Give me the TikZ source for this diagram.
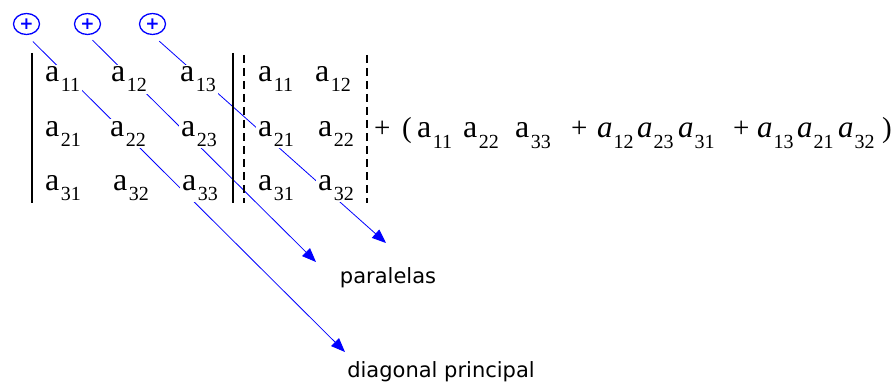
\documentclass[tikz,border=0pt]{standalone}
\usepackage{fontspec}
\setmainfont{Liberation Serif}
\newfontfamily\labelfont{DejaVu Sans}
\usetikzlibrary{arrows.meta,shapes.geometric}

\newcommand\ent[1]{{\fontsize{32}{32}\selectfont a}\kern1.5pt\raisebox{-10pt}{\fontsize{20}{20}\selectfont #1}}
\newcommand\ient[1]{{\fontsize{31}{31}\selectfont\itshape a}\kern1pt\raisebox{-10pt}{\fontsize{20}{20}\selectfont #1}}
\newcommand\bx[2]{\makebox[#1pt][l]{#2}}

\begin{document}
\begin{tikzpicture}[x=1pt,y=-1pt,
  elem/.style={anchor=base west,fill=white,inner sep=2pt},
  plus/.style={draw=blue,ellipse,line width=1.3pt,minimum width=26pt,minimum height=21pt,inner sep=0pt,text=blue,font=\labelfont\bfseries\fontsize{17}{17}\selectfont},
  diag/.style={blue,line width=0.8pt,-{Triangle[length=14pt,width=11pt]}},
  bar/.style={line width=1.6pt},
  dbar/.style={line width=1.6pt,dash pattern=on 8pt off 5pt},
  lbl/.style={font=\labelfont\fontsize{21}{21}\selectfont}
]
  \useasboundingbox (0,0) rectangle (896,385);

  % signos
  \node[plus] (p1) at (26.5,24) {+};
  \node[plus] (p2) at (87.5,24) {+};
  \node[plus] (p3) at (152.5,24) {+};

  % fin de las flechas
  \coordinate (d1) at (345,352);
  \coordinate (d2) at (316,262);
  \coordinate (d3) at (386,243);

  \draw[diag,shorten <=9pt] (p1.south) -- (d1);
  \draw[diag,shorten <=7pt] (p2.south) -- (d2);
  \draw[diag,shorten <=9pt] (p3.south) -- (d3);

  % barras
  \draw[bar] (32,53) -- (32,203);
  \draw[bar] (233,53) -- (233,203);
  \draw[dbar] (244,55) -- (244,203);
  \draw[dbar] (367,55) -- (367,203);

  % determinante
  \node[elem] (a11) at (43,82) {\ent{11}};
  \node[elem] (a12) at (109,82) {\ent{12}};
  \node[elem] (a13) at (178,82) {\ent{13}};
  \node[elem] (a21) at (43,136) {\ent{21}};
  \node[elem] (a22) at (108,136) {\ent{22}};
  \node[elem] (a23) at (179,136) {\ent{23}};
  \node[elem] (a31) at (43,190) {\ent{31}};
  \node[elem] (a32) at (111,190) {\ent{32}};
  \node[elem] (a33) at (180,190) {\ent{33}};

  % columnas repetidas
  \node[elem] (r11) at (256,82) {\ent{11}};
  \node[elem] (r12) at (313,82) {\ent{12}};
  \node[elem] (r21) at (256,136) {\ent{21}};
  \node[elem] (r22) at (316,136) {\ent{22}};
  \node[elem] (r31) at (256,190) {\ent{31}};
  \node[elem] (r32) at (316,190) {\ent{32}};

  \node[anchor=base west,inner sep=0pt,font=\fontsize{29}{29}\selectfont] (sum) at (374,138)
    {\bx{28}{+}\bx{15}{(}\bx{46}{\ent{11}}\bx{52}{\ent{22}}\bx{56}{\ent{33}}\bx{26}{+}%
     \bx{40}{\ient{12}}\bx{41}{\ient{23}}\bx{55}{\ient{31}}\bx{24}{+}%
     \bx{40}{\ient{13}}\bx{41}{\ient{21}}\bx{44}{\ient{32}})};

  \node[lbl] (par) at (388,278) {paralelas};
  \node[lbl] (dp) at (441,372) {diagonal principal};
\end{tikzpicture}
\end{document}
